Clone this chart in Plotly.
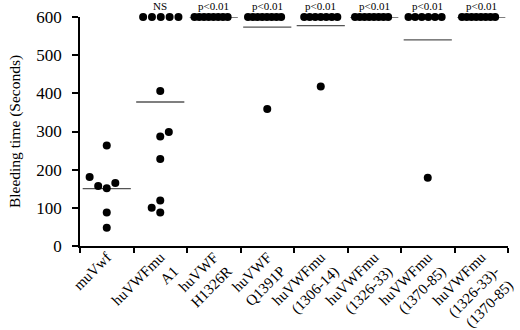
import plotly.graph_objects as go

categories = [
    "muVwf",
    "huVWFmu<br>A1",
    "huVWF<br>H1326R",
    "huVWF<br>Q1391P",
    "huVWFmu<br>(1306-14)",
    "huVWFmu<br>(1326-33)",
    "huVWFmu<br>(1370-85)",
    "huVWFmu<br>(1326-33)-<br>(1370-85)",
]
significance = ["", "NS", "p<0.01", "p<0.01", "p<0.01", "p<0.01", "p<0.01", "p<0.01"]

# Bleeding times (seconds) below the 600 s cutoff, per group
low_values = [
    [181, 157, 151, 165, 263, 88, 48],
    [406, 287, 299, 228, 119, 100, 88],
    [],
    [359],
    [418],
    [],
    [179],
    [],
]
# horizontal slot of each low value (beeswarm side-by-side placement)
low_slots = [
    [-2, -1, 0, 1, 0, 0, 0],
    [0, 0, 1, 0, 0, -1, 0],
    [],
    [0],
    [0],
    [],
    [0],
    [],
]
# number of animals capped at 600 s per group
capped_counts = [0, 5, 8, 8, 7, 8, 6, 8]
CAP = 600

fig = go.Figure()
xs, ys = [], []
means = []
for gi in range(len(categories)):
    g = gi + 1
    vals = list(low_values[gi])
    for v, s in zip(low_values[gi], low_slots[gi]):
        xs.append(g + s * 0.16)
        ys.append(v)
    n = capped_counts[gi]
    if n:
        if n == 5:
            lo, hi = -0.32, 0.34
        elif n == 7:
            lo, hi = -0.31, 0.31
        else:
            lo, hi = -0.36, 0.26
        step = (hi - lo) / (n - 1)
        for k in range(n):
            xs.append(g + lo + k * step)
            ys.append(CAP)
            vals.append(CAP)
    means.append(sum(vals) / len(vals))

fig.add_trace(go.Scatter(
    x=xs, y=ys, mode="markers",
    marker=dict(size=8, color="black", line=dict(width=0)),
    cliponaxis=False, showlegend=False, hoverinfo="skip",
))

for gi, m in enumerate(means):
    g = gi + 1
    fig.add_shape(type="line", xref="x", yref="y",
                  x0=g - 0.45, x1=g + 0.45, y0=m, y1=m,
                  line=dict(color="#555555", width=1.3), layer="below")
    if significance[gi]:
        fig.add_annotation(x=g, y=CAP, xref="x", yref="y", text=significance[gi],
                           showarrow=False, yanchor="bottom", yshift=3,
                           font=dict(family="Liberation Serif", size=11, color="black"))

fig.update_layout(
    width=520, height=330,
    margin=dict(l=80, r=12, t=17, b=84),
    paper_bgcolor="white", plot_bgcolor="white",
    font=dict(family="Liberation Serif", color="black"),
    xaxis=dict(
        range=[0.5, 8.5], tickmode="array", automargin=False,
        tickvals=list(range(1, len(categories) + 1)), ticktext=categories,
        tickangle=-45, ticks="", showgrid=False, zeroline=False,
        showline=True, linecolor="black", linewidth=1.5,
        tickfont=dict(family="Liberation Serif", size=15, color="black"),
        ticklabelstandoff=-5,
        minor=dict(tick0=0.5, dtick=1, ticks="outside", ticklen=5,
                   tickcolor="black", tickwidth=1.5, showgrid=False),
    ),
    yaxis=dict(
        range=[0, 600], tickvals=[0, 100, 200, 300, 400, 500, 600], automargin=False,
        ticks="outside", ticklen=6, tickwidth=1.5, tickcolor="black",
        showgrid=False, zeroline=False, showline=True, linecolor="black", linewidth=1.5,
        tickfont=dict(family="Liberation Serif", size=17, color="black"),
        ticklabelstandoff=7,
        title=dict(text="Bleeding time (Seconds)", standoff=12,
                   font=dict(family="Liberation Serif", size=15.5, color="black")),
    ),
)

fig.write_html("out.html", config={"displayModeBar": False},
               post_script="document.body.style.margin='0';")
